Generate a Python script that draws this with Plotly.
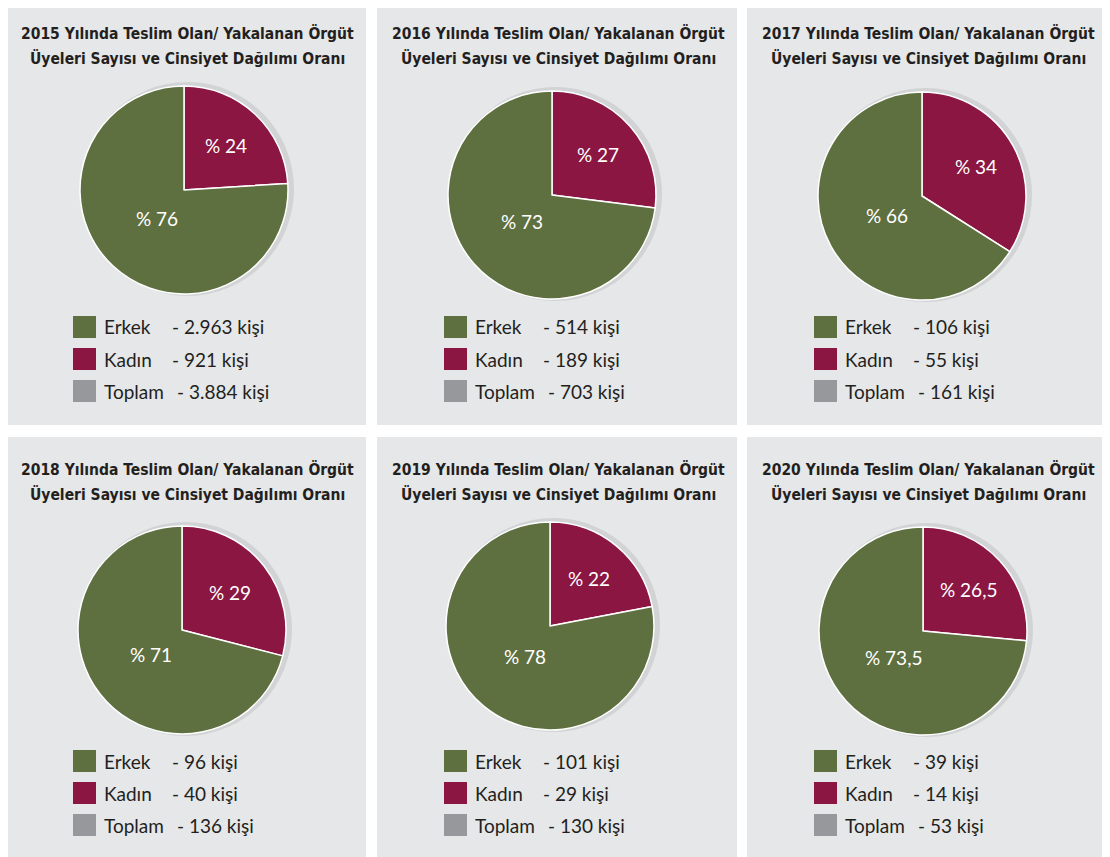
import math
import plotly.graph_objects as go

years = ["2015", "2016", "2017", "2018", "2019", "2020"]
erkek_pct = [76, 73, 66, 71, 78, 73.5]
kadin_pct = [24, 27, 34, 29, 22, 26.5]
erkek_count = ["2.963", "514", "106", "96", "101", "39"]
kadin_count = ["921", "189", "55", "40", "29", "14"]
toplam_count = ["3.884", "703", "161", "136", "130", "53"]
legend_labels = ["Erkek", "Kadın", "Toplam"]
title_line1 = "%s Yılında Teslim Olan/ Yakalanan Örgüt"
title_line2 = "Üyeleri Sayısı ve Cinsiyet Dağılımı Oranı"

W, H = 1110, 857
OFF = 8  # page body margin
GREEN = "#5f7040"
MAROON = "#8b1642"
GRAY = "#97989b"
PANEL = "#e6e7e8"
SHADOW = "#d1d3d4"
TXT = "#231f20"

# layout geometry (pixels, in reference screen coordinates)
col_x = [(6, 366), (377, 737), (747, 1107)]
row_y = [(2, 425), (437, 870)]
pie_centers = [(184, 190), (552, 195), (922, 196), (182, 630), (550, 626), (923, 631)]
R = 104
label_radius = [0.59, 0.38]  # fraction of R for (Kadın, Erkek) labels


def px(x):
    return (x - OFF) / W


def py(y):
    return 1 - (y - OFF) / H


def fmt(v):
    s = ("%g" % v).replace(".", ",")
    return "% " + s


fig = go.Figure()
shapes = []
annotations = []

for i, yr in enumerate(years):
    r, c = divmod(i, 3)
    x0, x1 = col_x[c]
    y0, y1 = row_y[r]
    shapes.append(dict(type="rect", xref="paper", yref="paper", layer="below",
                       x0=px(x0), x1=px(x1), y0=py(y1), y1=py(y0),
                       fillcolor=PANEL, line=dict(width=0)))
    cx, cy = pie_centers[i]
    # shadow
    shapes.append(dict(type="circle", xref="paper", yref="paper", layer="below",
                       x0=px(cx - R + 1), x1=px(cx + R + 6), y0=py(cy + R + 2), y1=py(cy - R - 4),
                       fillcolor=SHADOW, line=dict(width=0)))
    vals = [kadin_pct[i], erkek_pct[i]]
    fig.add_trace(go.Pie(
        values=vals,
        labels=["Kadın", "Erkek"],
        textinfo="none",
        marker=dict(colors=[MAROON, GREEN], line=dict(color="white", width=1.5)),
        sort=False, direction="clockwise", rotation=0,
        domain=dict(x=[px(cx - R), px(cx + R)], y=[py(cy + R), py(cy - R)]),
        showlegend=False, hoverinfo="skip",
    ))
    # slice labels at mid-angle of each slice
    total = sum(vals)
    cum = 0
    for j, v in enumerate(vals):
        mid = (cum + v / 2) / total * 2 * math.pi
        cum += v
        lx = cx + label_radius[j] * R * math.sin(mid)
        ly = cy - label_radius[j] * R * math.cos(mid)
        annotations.append(dict(text=fmt(v), x=px(lx), y=py(ly), xref="paper", yref="paper",
                                xanchor="center", yanchor="middle", showarrow=False,
                                font=dict(family="Lato", size=19, color="white")))
    # title
    tcx = (x0 + x1) / 2 + 1
    ty = 33 if r == 0 else 470
    for k, line in enumerate([title_line1 % yr, title_line2]):
        annotations.append(dict(
            text="<b>%s</b>" % line,
            x=px(tcx), y=py(ty + 25 * k), xref="paper", yref="paper",
            xanchor="center", yanchor="middle", showarrow=False,
            font=dict(family="DejaVu Sans Condensed", size=15.5, color=TXT)))
    # legend
    counts = [erkek_count[i], kadin_count[i], toplam_count[i]]
    colors = [GREEN, MAROON, GRAY]
    dash_off = [164, 164, 169]
    for k in range(3):
        ly = y0 + 325 + (0 if r == 0 else -1) + 32 * k
        shapes.append(dict(type="rect", xref="paper", yref="paper",
                           x0=px(x0 + 67), x1=px(x0 + 90), y0=py(ly + 11), y1=py(ly - 11),
                           fillcolor=colors[k], line=dict(width=0)))
        annotations.append(dict(text=legend_labels[k], x=px(x0 + 96), y=py(ly),
                                xref="paper", yref="paper", xanchor="left", yanchor="middle",
                                showarrow=False, font=dict(family="Lato", size=19, color=TXT)))
        annotations.append(dict(text="- " + counts[k] + " kişi", x=px(x0 + dash_off[k]), y=py(ly),
                                xref="paper", yref="paper", xanchor="left", yanchor="middle",
                                showarrow=False, font=dict(family="Lato", size=19, color=TXT)))

fig.update_layout(width=W, height=H, margin=dict(l=0, r=0, t=0, b=0),
                  paper_bgcolor="white", plot_bgcolor="white",
                  shapes=shapes, annotations=annotations)
fig.write_html("out.html")
